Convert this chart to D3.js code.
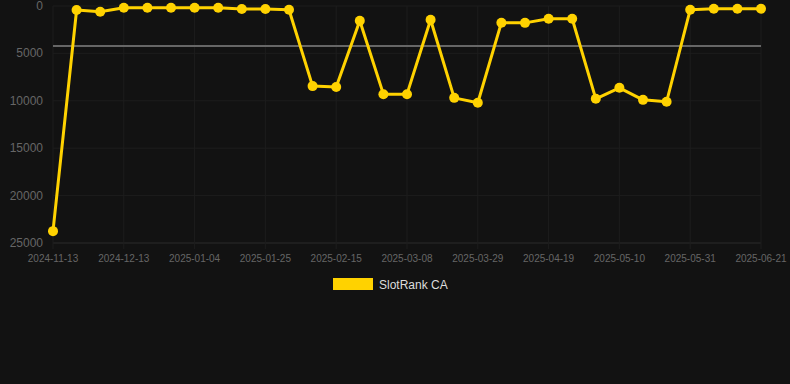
<!DOCTYPE html>
<html lang="en">

<head>
    <meta charset="UTF-8">
    <script src="https://cdn.jsdelivr.net/npm/d3@7"></script>
    <title>SlotRank CA</title>
</head>
<style>
    body {
        margin: 0;
        background: #121212;
    }

    text {
        font-family: "Liberation Sans", Arial, sans-serif;
    }
</style>

<body>

</body>
<script>
    // categories (one point each), tick labels shown every 3rd
    var dates = ["2024-11-13", "2024-11-23", "2024-12-03", "2024-12-13", "2024-12-20", "2024-12-27",
        "2025-01-04", "2025-01-11", "2025-01-18", "2025-01-25", "2025-02-01", "2025-02-08",
        "2025-02-15", "2025-02-22", "2025-03-01", "2025-03-08", "2025-03-15", "2025-03-22",
        "2025-03-29", "2025-04-05", "2025-04-12", "2025-04-19", "2025-04-26", "2025-05-03",
        "2025-05-10", "2025-05-17", "2025-05-24", "2025-05-31", "2025-06-07", "2025-06-14",
        "2025-06-21"];
    var ranks = [23750, 420, 600, 180, 180, 180,
        180, 180, 320, 320, 400, 8450,
        8550, 1550, 9300, 9300, 1450, 9690,
        10210, 1760, 1780, 1340, 1340, 9790,
        8630, 9900, 10100, 390, 290, 290,
        290];
    var yTicks = [0, 5000, 10000, 15000, 20000, 25000];
    var seriesName = "SlotRank CA";

    var width = 790, height = 384;
    var plotL = 53, plotR = 761, plotT = 6, plotB = 243;

    var svg = d3.select("body").append("svg")
        .attr("width", width)
        .attr("height", height);

    var x = d3.scalePoint().domain(dates).range([plotL, plotR]);
    var y = d3.scaleLinear().domain([0, 25000]).range([plotT, plotB]);

    // grid
    svg.append("g").selectAll("line").data(yTicks).enter().append("line")
        .attr("x1", plotL).attr("x2", plotR)
        .attr("y1", d => y(d)).attr("y2", d => y(d))
        .attr("stroke", d => d == 25000 ? "#2a2a2a" : "#1d1d1d")
        .attr("stroke-width", 1);

    var tickDates = dates.filter((d, i) => i % 3 == 0);
    svg.append("g").selectAll("line").data(tickDates).enter().append("line")
        .attr("x1", d => x(d)).attr("x2", d => x(d))
        .attr("y1", plotT).attr("y2", plotB + 6)
        .attr("stroke", "#1d1d1d")
        .attr("stroke-width", 1);

    // axis labels
    svg.append("g").selectAll("text").data(yTicks).enter().append("text")
        .attr("x", 43).attr("y", d => y(d) + 4)
        .attr("text-anchor", "end")
        .attr("fill", "#666")
        .attr("font-size", 12)
        .text(d => d);

    svg.append("g").selectAll("text").data(tickDates).enter().append("text")
        .attr("x", d => x(d)).attr("y", 262)
        .attr("text-anchor", "middle")
        .attr("fill", "#666")
        .attr("font-size", 10)
        .text(d => d);

    // average line
    var avg = d3.mean(ranks);
    svg.append("line")
        .attr("x1", plotL).attr("x2", plotR)
        .attr("y1", y(avg)).attr("y2", y(avg))
        .attr("stroke", "#666")
        .attr("stroke-width", 2);

    // series
    var line = d3.line().x((d, i) => x(dates[i])).y(d => y(d));
    svg.append("path").datum(ranks)
        .attr("d", line)
        .attr("fill", "none")
        .attr("stroke", "#ffd200")
        .attr("stroke-width", 3)
        .attr("stroke-linejoin", "round");

    svg.append("g").selectAll("circle").data(ranks).enter().append("circle")
        .attr("cx", (d, i) => x(dates[i]))
        .attr("cy", d => y(d))
        .attr("r", 5)
        .attr("fill", "#ffd200");

    // legend
    svg.append("rect")
        .attr("x", 333).attr("y", 278)
        .attr("width", 40).attr("height", 12)
        .attr("fill", "#ffd200");
    svg.append("text")
        .attr("x", 379).attr("y", 289)
        .attr("fill", "#ddd")
        .attr("font-size", 12)
        .text(seriesName);
</script>

</html>
